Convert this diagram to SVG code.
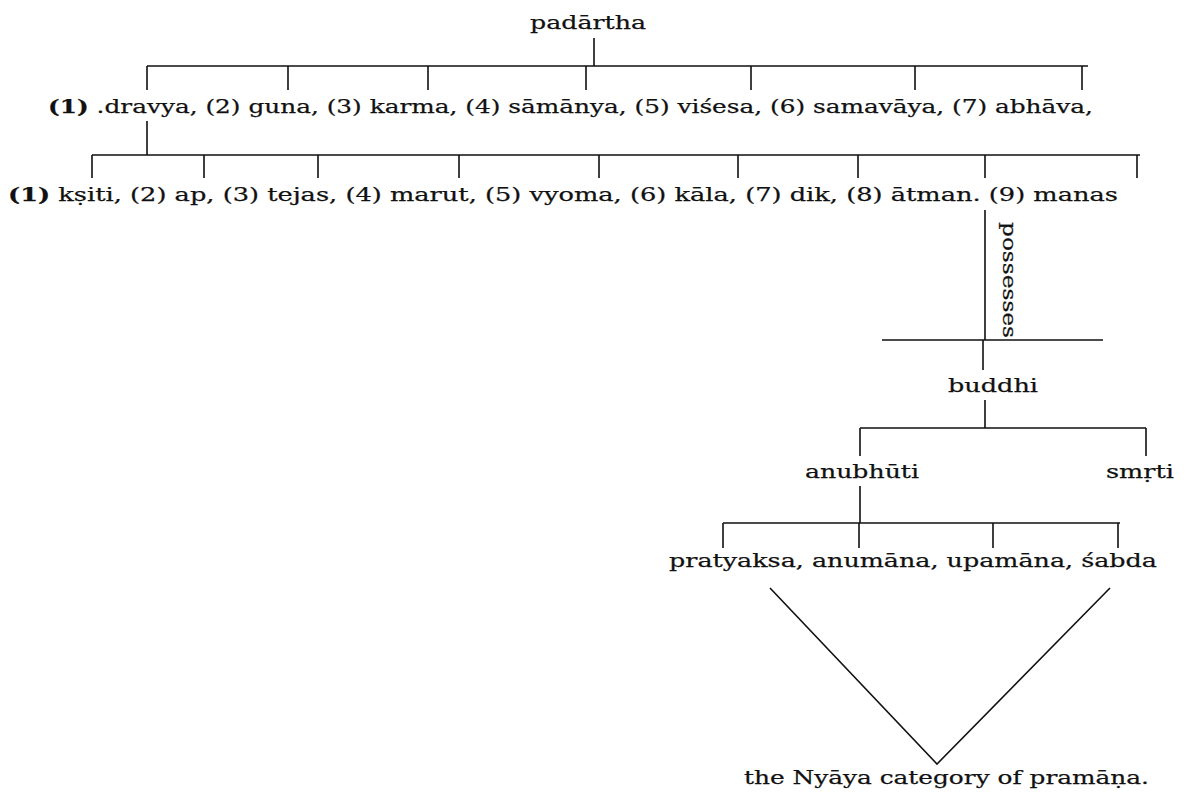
<svg xmlns="http://www.w3.org/2000/svg" width="1186" height="793" viewBox="0 0 1186 793">
<style>
text{font-family:"DejaVu Serif","Liberation Serif",serif;font-size:19px;fill:#111;stroke:#111;stroke-width:0.25}
.b{font-weight:bold}
.c{stroke:#111;stroke-width:1.6;fill:none}
</style>
<rect width="1186" height="793" fill="#fff"/>
<g id="connectors" class="c">
<path d="M594 38V66M147 66H1088"/>
<path d="M147 66V90M288 66V90M428 66V90M586 66V90M751 66V90M915 66V90M1082 66V90"/>
<path d="M147 121V155M92 155H1140"/>
<path d="M92 155V178M204 155V178M318 155V178M459 155V178M599 155V178M738 155V178M858 155V178M985 155V178M1137 155V178"/>
<path d="M985 210V340M983 340V370M882 340H1103"/>
<path d="M985 400V428M860 428H1146M860 428V456M1146 428V456"/>
<path d="M860 486V523M723 523H1120M723 523V548M859 523V548M993 523V548M1118 523V548"/>
<path d="M770 588L937 764L1110 588"/>
</g>
<g id="padartha"><text x="530" y="29" textLength="116" lengthAdjust="spacingAndGlyphs">padārtha</text></g>
<g id="row1"><text x="48" y="113" textLength="1045" lengthAdjust="spacingAndGlyphs"><tspan class="b">(1)</tspan> .dravya, (2) guna, (3) karma, (4) sāmānya, (5) viśesa, (6) samavāya, (7) abhāva,</text></g>
<g id="row2"><text x="8" y="201" textLength="1110" lengthAdjust="spacingAndGlyphs"><tspan class="b">(1)</tspan> kṣiti, (2) ap, (3) tejas, (4) marut, (5) vyoma, (6) kāla, (7) dik, (8) ātman. (9) manas</text></g>
<g id="possesses"><text transform="translate(1003,222) rotate(90)" textLength="116" lengthAdjust="spacingAndGlyphs">possesses</text></g>
<g id="buddhi"><text x="948" y="392" textLength="90" lengthAdjust="spacingAndGlyphs">buddhi</text></g>
<g id="anubhuti"><text x="805" y="478" textLength="114" lengthAdjust="spacingAndGlyphs">anubhūti</text></g>
<g id="smrti"><text x="1106" y="478" textLength="68" lengthAdjust="spacingAndGlyphs">smṛti</text></g>
<g id="pramanas"><text x="669" y="567" textLength="488" lengthAdjust="spacingAndGlyphs">pratyaksa, anumāna, upamāna, śabda</text></g>
<g id="nyaya"><text x="744" y="784" textLength="405" lengthAdjust="spacingAndGlyphs">the Nyāya category of pramāṇa.</text></g>
</svg>
